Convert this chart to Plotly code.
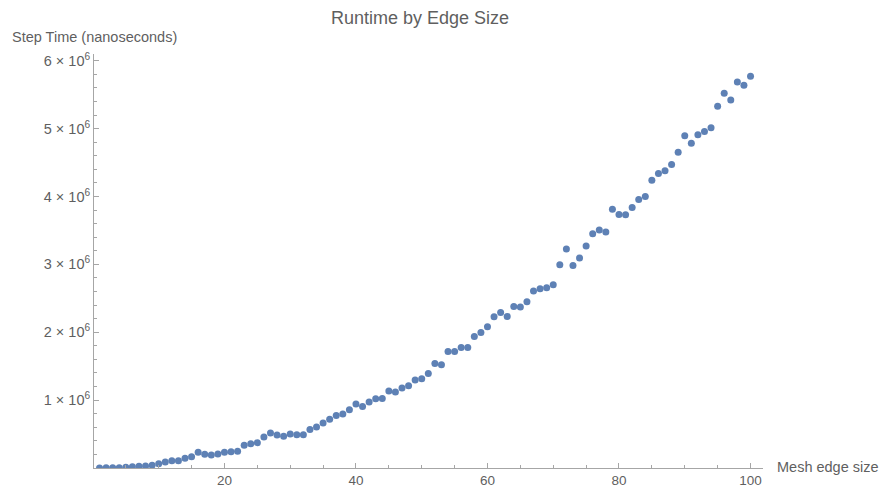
import plotly.graph_objects as go

# Mesh edge sizes 1..100 and measured step times (nanoseconds)
edge_size = list(range(1, 101))
step_time_millions = [
    0.000, 0.005, 0.005, 0.005, 0.010, 0.020, 0.025, 0.030, 0.040, 0.064,
    0.089, 0.108, 0.108, 0.142, 0.167, 0.231, 0.201, 0.191, 0.206, 0.231,
    0.240, 0.245, 0.334, 0.358, 0.373, 0.456, 0.515, 0.486, 0.466, 0.500,
    0.490, 0.490, 0.569, 0.604, 0.663, 0.717, 0.775, 0.795, 0.859, 0.943,
    0.908, 0.972, 1.021, 1.025, 1.134, 1.119, 1.178, 1.212, 1.296, 1.315,
    1.393, 1.541, 1.521, 1.717, 1.717, 1.776, 1.776, 1.938, 1.997, 2.081,
    2.228, 2.292, 2.233, 2.380, 2.371, 2.449, 2.607, 2.641, 2.655, 2.700,
    2.994, 3.225, 2.984, 3.093, 3.270, 3.451, 3.505, 3.476, 3.814, 3.735,
    3.730, 3.838, 3.956, 4.000, 4.241, 4.339, 4.379, 4.472, 4.654, 4.894,
    4.786, 4.909, 4.958, 5.012, 5.331, 5.523, 5.424, 5.689, 5.640, 5.773,
]
step_time = [v * 1e6 for v in step_time_millions]

x_tick_vals = [20, 40, 60, 80, 100]
x_tick_text = ["20", "40", "60", "80", "100"]
y_tick_vals = [1e6, 2e6, 3e6, 4e6, 5e6, 6e6]
y_tick_text = [f"{k} × 10<sup>6</sup>" for k in range(1, 7)]

W, H = 879, 487
ML, MR, MT, MB = 94, 116, 54, 19
PW, PH = W - ML - MR, H - MT - MB

AXIS_COLOR = "#a6a6a6"
TEXT_COLOR = "#5f5f5f"
FONT = "Liberation Sans, Arial, sans-serif"
LABEL_SIZE = 14.5


def px_to_paper(px, py):
    return (px - ML) / PW, (H - MB - py) / PH


fig = go.Figure(
    go.Scatter(
        x=edge_size,
        y=step_time,
        mode="markers",
        marker=dict(color="#5e81b5", size=7, line=dict(width=0)),
        hoverinfo="x+y",
    )
)

fig.update_layout(
    width=W,
    height=H,
    margin=dict(l=ML, r=MR, t=MT, b=MB, autoexpand=False),
    paper_bgcolor="white",
    plot_bgcolor="white",
    showlegend=False,
    font=dict(family=FONT, size=LABEL_SIZE, color=TEXT_COLOR),
    title=dict(
        text="Runtime by Edge Size",
        x=420 / W,
        xanchor="center",
        y=1 - 18 / H,
        yanchor="middle",
        font=dict(family=FONT, size=18, color=TEXT_COLOR),
    ),
)

fig.update_xaxes(
    range=[0.16, 101.9],
    automargin=False,
    showgrid=False,
    zeroline=False,
    showline=True,
    linecolor=AXIS_COLOR,
    linewidth=1,
    ticks="inside",
    ticklen=5,
    tickcolor=AXIS_COLOR,
    tickmode="array",
    tickvals=x_tick_vals,
    ticktext=x_tick_text,
    tickfont=dict(family=FONT, size=13.5, color=TEXT_COLOR),
    minor=dict(
        tickvals=[v for v in range(5, 101, 5) if v % 20],
        ticks="inside",
        ticklen=3,
        tickcolor=AXIS_COLOR,
    ),
)

fig.update_yaxes(
    range=[0, 6.1e6],
    automargin=False,
    showgrid=False,
    zeroline=False,
    showline=True,
    linecolor=AXIS_COLOR,
    linewidth=1,
    ticks="inside",
    ticklen=5,
    tickcolor=AXIS_COLOR,
    tickmode="array",
    tickvals=y_tick_vals,
    ticktext=y_tick_text,
    tickfont=dict(family=FONT, size=LABEL_SIZE, color=TEXT_COLOR),
    minor=dict(
        tickvals=[k * 2e5 for k in range(1, 31) if k % 5],
        ticks="inside",
        ticklen=3,
        tickcolor=AXIS_COLOR,
    ),
)

# Axis labels: y label above the axis, x label at the right end of the axis
ylx, yly = px_to_paper(10, 37)
fig.add_annotation(
    text="Step Time (nanoseconds)",
    xref="paper", yref="paper", x=ylx, y=yly,
    xanchor="left", yanchor="middle", showarrow=False,
    font=dict(family=FONT, size=LABEL_SIZE, color=TEXT_COLOR),
)
xlx, xly = px_to_paper(775, 467)
fig.add_annotation(
    text="Mesh edge size",
    xref="paper", yref="paper", x=xlx, y=xly,
    xanchor="left", yanchor="middle", showarrow=False,
    font=dict(family=FONT, size=LABEL_SIZE, color=TEXT_COLOR),
)

fig.write_html("out.html")
